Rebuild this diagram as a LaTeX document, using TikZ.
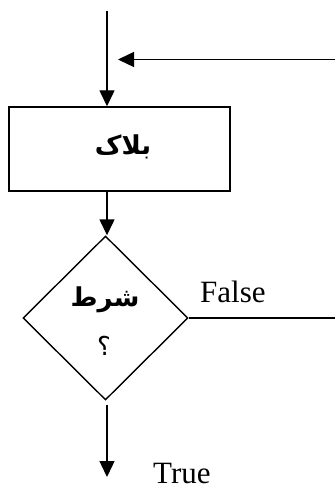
\documentclass[tikz,border=0pt]{standalone}
\usepackage{fontspec}
\setmainfont{Liberation Serif}
\newfontfamily\arabicfont[Script=Arabic]{DejaVu Sans}
\TeXXeTstate=1
\usetikzlibrary{shapes.geometric,arrows.meta}

\tikzset{
  flow/.style={line width=1.4pt},
  flowarrow/.style={flow, -{Triangle[length=16pt,width=15pt]}},
  blockbox/.style={draw, line width=1.4pt, minimum width=221pt, minimum height=84pt, inner sep=0pt},
  decision/.style={draw, diamond, line width=1.4pt, minimum width=165pt, minimum height=164pt, inner sep=0pt},
  farsi/.style={font=\arabicfont\bfseries\fontsize{26}{30}\selectfont, inner sep=0pt},
  latin/.style={font=\fontsize{31}{36}\selectfont, inner sep=0pt}
}

\begin{document}
\begin{tikzpicture}[x=1pt,y=-1pt]
  \useasboundingbox (0,0) rectangle (335,489);

  % incoming flow and loop-back entry
  \coordinate (start) at (107,11);
  \coordinate (loopin) at (335,59.5);
  \coordinate (loopend) at (118,59.5);

  % the block and the condition
  \node[blockbox] (blk) at (119.5,149) {};
  \node[farsi] (blktext) at (123,147) {\beginR بلاک\endR};

  \node[decision] (cond) at (105.5,318) {};
  \node[farsi] (condtext) at (105,300) {\beginR شرط\endR};
  \node[farsi, font=\arabicfont\fontsize{26}{30}\selectfont] (qmark) at (104,346) {\beginR ؟\endR};

  % outgoing flows
  \coordinate (falseend) at (335,318);
  \coordinate (trueend) at (107,477);

  \node[latin, anchor=base west] (falselbl) at (200,302) {False};
  \node[latin, anchor=base west] (truelbl) at (153,483) {True};

  % connectors
  \draw[flowarrow] (start) -- (start |- blk.north);
  \draw[flowarrow] (loopin) -- (loopend);
  \draw[flowarrow] (blk.south -| start) -- (cond.north -| start);
  \draw[flow] (cond.east) -- (falseend);
  \draw[flowarrow, shorten <=4pt] (cond.south -| trueend) -- (trueend);
\end{tikzpicture}
\end{document}
